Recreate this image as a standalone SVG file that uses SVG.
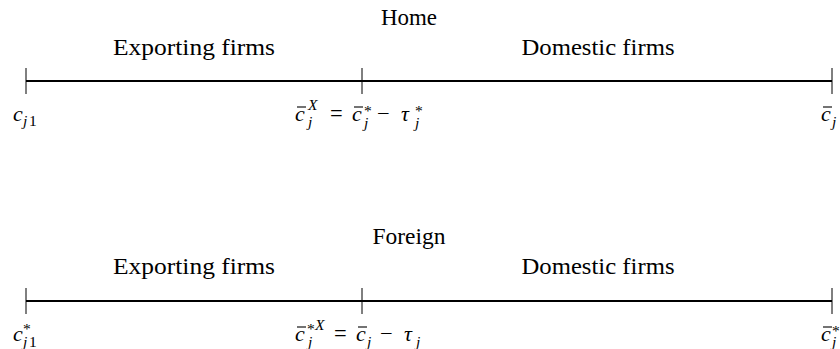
<svg xmlns="http://www.w3.org/2000/svg" width="840" height="349" viewBox="0 0 840 349" font-family="Liberation Serif">
<style>
text{fill:#000}
.w{font-size:22.5px}
.m{font-size:22px;font-style:italic}
.s{font-size:15.5px;font-style:italic}
.su{font-size:15.5px}
.axis{stroke:#000;stroke-width:2;fill:none}
.tick{stroke:#000;stroke-width:1;fill:none}
.bar{stroke:#000;stroke-width:1.1;fill:none}
</style>
<rect width="840" height="349" fill="#fff"/>
<g id="home" font-family="Liberation Serif">
  <text class="w" font-family="Liberation Serif" x="409" y="25" text-anchor="middle" textLength="56" lengthAdjust="spacingAndGlyphs">Home</text>
  <text class="w" font-family="Liberation Serif" x="194" y="55" text-anchor="middle" textLength="162" lengthAdjust="spacingAndGlyphs">Exporting firms</text>
  <text class="w" font-family="Liberation Serif" x="598" y="55" text-anchor="middle" textLength="153" lengthAdjust="spacingAndGlyphs">Domestic firms</text>
  <g id="home-axis">
    <line class="axis" x1="26" y1="81" x2="832" y2="81"/>
    <line class="tick" x1="26" y1="68" x2="26" y2="94"/>
    <line class="tick" x1="362" y1="68" x2="362" y2="94"/>
    <line class="tick" x1="832" y1="68" x2="832" y2="94"/>
  </g>
  <g id="home-left-label" font-family="Liberation Serif">
    <text class="m" x="13" y="121">c</text>
    <text class="s" x="23" y="126">j</text>
    <text class="su" x="29" y="126">1</text>
  </g>
  <g id="home-mid-label" font-family="Liberation Serif">
    <text class="m" x="295" y="121">c</text>
    <line class="bar" x1="297" y1="107" x2="306" y2="107"/>
    <text class="s" x="308" y="110">X</text>
    <text class="s" x="308" y="127">j</text>
    <text class="w" x="330" y="121">=</text>
    <text class="m" x="352" y="121">c</text>
    <line class="bar" x1="354" y1="107" x2="363" y2="107"/>
    <text class="su" x="364" y="116">*</text>
    <text class="s" x="364" y="128">j</text>
    <text class="w" x="377" y="121">−</text>
    <text class="m" x="401" y="121">τ</text>
    <text class="su" x="415" y="116">*</text>
    <text class="s" x="415" y="128">j</text>
  </g>
  <g id="home-right-label" font-family="Liberation Serif">
    <text class="m" x="821" y="121">c</text>
    <line class="bar" x1="823" y1="107" x2="832" y2="107"/>
    <text class="s" x="832" y="127">j</text>
  </g>
</g>
<g id="foreign" font-family="Liberation Serif">
  <text class="w" font-family="Liberation Serif" x="409" y="244" text-anchor="middle" textLength="73" lengthAdjust="spacingAndGlyphs">Foreign</text>
  <text class="w" font-family="Liberation Serif" x="194" y="274" text-anchor="middle" textLength="162" lengthAdjust="spacingAndGlyphs">Exporting firms</text>
  <text class="w" font-family="Liberation Serif" x="598" y="274" text-anchor="middle" textLength="153" lengthAdjust="spacingAndGlyphs">Domestic firms</text>
  <g id="foreign-axis">
    <line class="axis" x1="26" y1="301" x2="832" y2="301"/>
    <line class="tick" x1="26" y1="288" x2="26" y2="314"/>
    <line class="tick" x1="362" y1="288" x2="362" y2="314"/>
    <line class="tick" x1="832" y1="288" x2="832" y2="314"/>
  </g>
  <g id="foreign-left-label" font-family="Liberation Serif">
    <text class="m" x="13" y="341">c</text>
    <text class="su" x="23" y="334">*</text>
    <text class="s" x="23" y="347">j</text>
    <text class="su" x="29" y="347">1</text>
  </g>
  <g id="foreign-mid-label" font-family="Liberation Serif">
    <text class="m" x="295" y="341">c</text>
    <line class="bar" x1="297" y1="327" x2="306" y2="327"/>
    <text class="su" x="307" y="334">*</text>
    <text class="s" x="315" y="330">X</text>
    <text class="s" x="308" y="347">j</text>
    <text class="w" x="334" y="341">=</text>
    <text class="m" x="356" y="341">c</text>
    <line class="bar" x1="358" y1="327" x2="367" y2="327"/>
    <text class="s" x="367" y="347">j</text>
    <text class="w" x="380" y="341">−</text>
    <text class="m" x="404" y="341">τ</text>
    <text class="s" x="416" y="347">j</text>
  </g>
  <g id="foreign-right-label" font-family="Liberation Serif">
    <text class="m" x="821" y="341">c</text>
    <line class="bar" x1="823" y1="327" x2="832" y2="327"/>
    <text class="su" x="832" y="336">*</text>
    <text class="s" x="832" y="347">j</text>
  </g>
</g>
</svg>
